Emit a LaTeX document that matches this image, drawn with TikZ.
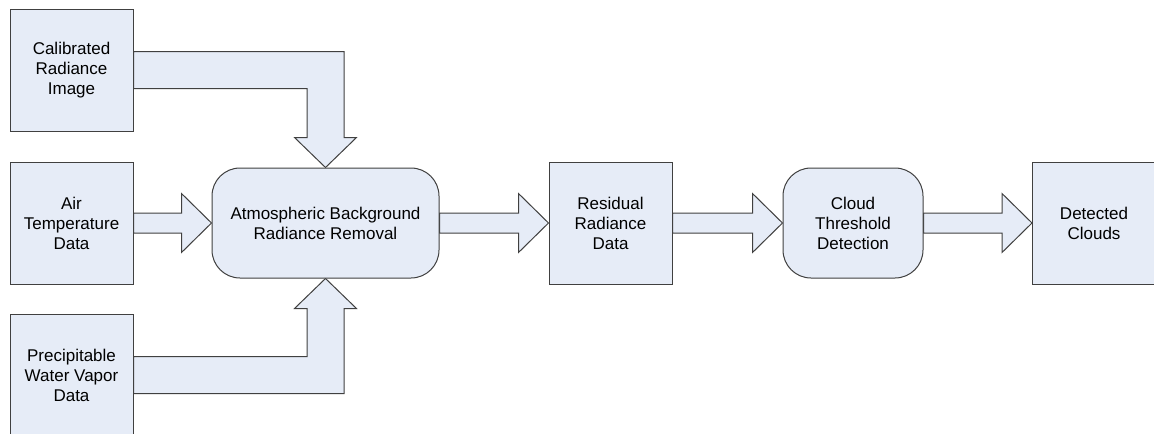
\documentclass[tikz,border=0pt]{standalone}
\usepackage{fontspec}
\setmainfont{Liberation Sans}
\usetikzlibrary{calc,backgrounds}
\definecolor{boxfill}{RGB}{230,236,247}
\definecolor{boxline}{RGB}{64,64,64}
\tikzset{
  databox/.style={draw=boxline, fill=boxfill, line width=0.75pt,
    minimum width=92.25pt, minimum height=91.5pt, align=center, inner sep=0pt,
    font=\fontsize{12.75}{15}\selectfont},
  procbox/.style={databox, minimum height=82.5pt, rounded corners=21pt},
  blockarrow/.style={draw=boxline, fill=boxfill, line width=0.75pt, line join=miter},
}
% straight block arrow between two nodes on one level
\newcommand\flowarrow[2]{%
  \path[blockarrow] ($(#1.east)+(0,-10)$) -- ($(#2.west)+(-30,-10)$)
    -- ($(#2.west)+(-30,-29.5)$) -- (#2.west) -- ($(#2.west)+(-30,29.5)$)
    -- ($(#2.west)+(-30,10)$) -- ($(#1.east)+(0,10)$) -- cycle;}
\begin{document}
\begin{tikzpicture}[x=0.75pt, y=-0.75pt]
  \useasboundingbox (0,0) rectangle (1154,433);
  \clip (0,0) rectangle (1154,433);

  % inputs
  \node[databox] (cal) at (71.5,70)  {Calibrated\\Radiance\\Image};
  \node[databox] (air) at (71.5,223) {Air\\Temperature\\Data};
  \node[databox] (pwv) at (71.5,375) {Precipitable\\Water Vapor\\Data};

  % processing chain
  \node[procbox, minimum width=170.25pt] (atm) at (325.5,223) {Atmospheric Background\\Radiance Removal};
  \node[databox] (res) at (610.5,223) {Residual\\Radiance\\Data};
  \node[procbox, minimum width=105pt] (cld) at (853,223) {Cloud\\Threshold\\Detection};
  \node[databox] (det) at (1094,223) {Detected\\Clouds};

  \coordinate (topbend) at (atm.north |- cal.east);
  \coordinate (botbend) at (atm.south |- pwv.east);

  \begin{scope}[on background layer]
    % bent arrow from above
    \path[blockarrow] ($(cal.east)+(0,-18.5)$) -- ($(topbend)+(18.5,-18.5)$)
      -- ($(atm.north)+(18.5,-30)$) -- ($(atm.north)+(31,-30)$) -- (atm.north)
      -- ($(atm.north)+(-31,-30)$) -- ($(atm.north)+(-18.5,-30)$)
      -- ($(topbend)+(-18.5,18.5)$) -- ($(cal.east)+(0,18.5)$) -- cycle;
    % bent arrow from below
    \path[blockarrow] ($(pwv.east)+(0,18.5)$) -- ($(botbend)+(18.5,18.5)$)
      -- ($(atm.south)+(18.5,30)$) -- ($(atm.south)+(31,30)$) -- (atm.south)
      -- ($(atm.south)+(-31,30)$) -- ($(atm.south)+(-18.5,30)$)
      -- ($(botbend)+(-18.5,-18.5)$) -- ($(pwv.east)+(0,-18.5)$) -- cycle;
    \flowarrow{air}{atm}
    \flowarrow{atm}{res}
    \flowarrow{res}{cld}
    \flowarrow{cld}{det}
  \end{scope}
\end{tikzpicture}
\end{document}
